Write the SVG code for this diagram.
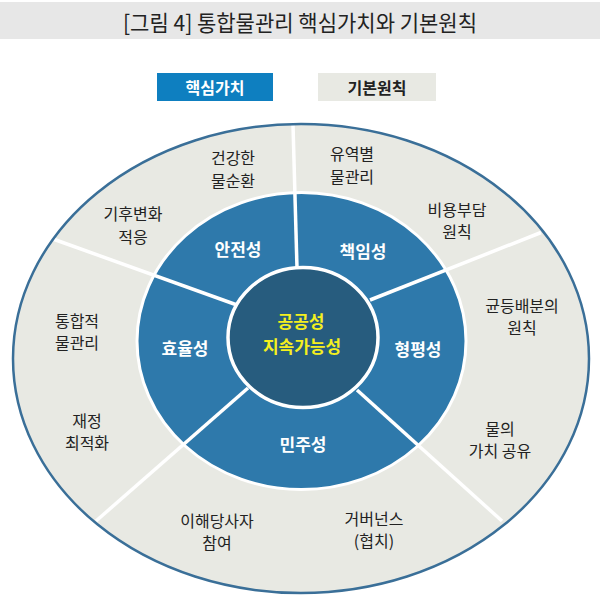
<svg xmlns="http://www.w3.org/2000/svg" width="600" height="603" viewBox="0 0 600 603">
  <style>
    text { font-family: "Noto Sans CJK KR", "Noto Sans", sans-serif; text-anchor: middle; dominant-baseline: central; }
    .title { font-size: 22px; font-weight: 400; fill: #222; }
    .leg { font-size: 16px; font-weight: 700; }
    .core { font-size: 17px; font-weight: 700; fill: #ffffff; }
    .center { font-size: 17px; font-weight: 700; fill: #f4ef1e; }
    .prin { font-size: 16px; font-weight: 400; fill: #222; }
    .div { stroke: #ffffff; stroke-width: 3.5; stroke-linecap: butt; }
  </style>
  <rect x="0" y="2" width="600" height="37" fill="#e7e7e7"/>
  <text class="title" x="300" y="21" textLength="354" lengthAdjust="spacingAndGlyphs">[그림 4] 통합물관리 핵심가치와 기본원칙</text>

  <g id="legend-core">
    <rect x="157" y="73" width="116" height="28" fill="#0e7fc0"/>
    <text class="leg" x="215" y="87" fill="#ffffff">핵심가치</text>
  </g>
  <g id="legend-principle">
    <rect x="318" y="73" width="118" height="28" fill="#e8e9e3"/>
    <text class="leg" x="377" y="87" fill="#222">기본원칙</text>
  </g>

  <g id="outer-ring">
    <ellipse cx="301" cy="358.5" rx="288" ry="234.5" fill="#e8e9e3"/>
  </g>
  <g id="core-ring">
    <ellipse cx="301.5" cy="341" rx="164.5" ry="148.5" fill="#2e79ab" stroke="#ffffff" stroke-width="3"/>
  </g>

  <g id="connectors">
    <line class="div" x1="297" y1="268" x2="293" y2="125"/>
    <line class="div" x1="370" y1="300" x2="541" y2="232.5"/>
    <line class="div" x1="237" y1="305" x2="53" y2="239"/>
    <line class="div" x1="357" y1="390" x2="502" y2="521"/>
    <line class="div" x1="248" y1="388" x2="96" y2="521"/>
  </g>
  <ellipse cx="301" cy="358.5" rx="288" ry="234.5" fill="none" stroke="#3a6f98" stroke-width="2.5"/>

  <g id="center">
    <ellipse cx="303" cy="337.5" rx="75" ry="70" fill="#275c7e" stroke="#ffffff" stroke-width="3.5"/>
    <text class="center" x="301" y="320">공공성</text>
    <text class="center" x="302" y="345">지속가능성</text>
  </g>

  <g id="core-safety"><text class="core" x="238" y="248">안전성</text></g>
  <g id="core-responsibility"><text class="core" x="363" y="250">책임성</text></g>
  <g id="core-equity"><text class="core" x="418" y="348">형평성</text></g>
  <g id="core-democracy"><text class="core" x="303" y="443">민주성</text></g>
  <g id="core-efficiency"><text class="core" x="185" y="347">효율성</text></g>

  <g id="p-water-cycle"><text class="prin" x="233" y="157">건강한</text><text class="prin" x="233" y="180">물순환</text></g>
  <g id="p-climate"><text class="prin" x="133" y="213">기후변화</text><text class="prin" x="133" y="236">적응</text></g>
  <g id="p-basin"><text class="prin" x="352" y="153">유역별</text><text class="prin" x="352" y="176">물관리</text></g>
  <g id="p-cost"><text class="prin" x="457" y="209">비용부담</text><text class="prin" x="457" y="231">원칙</text></g>
  <g id="p-distribution"><text class="prin" x="522" y="305">균등배분의</text><text class="prin" x="522" y="327">원칙</text></g>
  <g id="p-value"><text class="prin" x="500" y="428">물의</text><text class="prin" x="500" y="450">가치 공유</text></g>
  <g id="p-governance"><text class="prin" x="374" y="518">거버넌스</text><text class="prin" x="374" y="540">(협치)</text></g>
  <g id="p-stakeholder"><text class="prin" x="217" y="520">이해당사자</text><text class="prin" x="217" y="542">참여</text></g>
  <g id="p-integrated"><text class="prin" x="77" y="320">통합적</text><text class="prin" x="77" y="342">물관리</text></g>
  <g id="p-finance"><text class="prin" x="87" y="420">재정</text><text class="prin" x="87" y="442">최적화</text></g>
</svg>
